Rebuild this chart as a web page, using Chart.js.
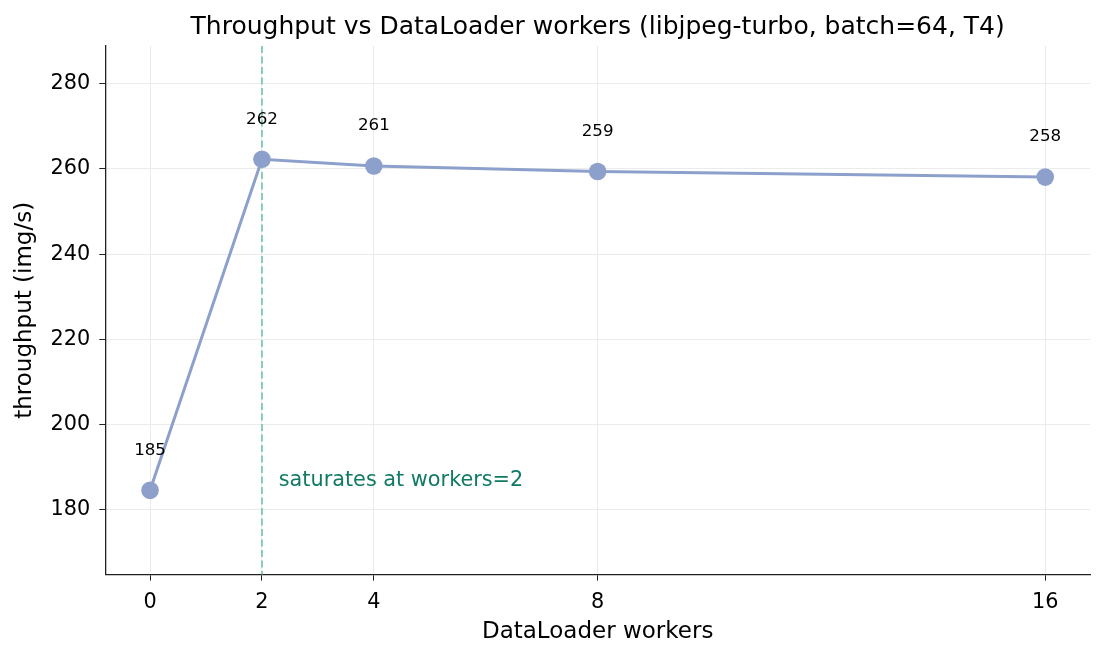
<!DOCTYPE html>
<html>
<head>
<meta charset="utf-8">
<script src="https://cdn.jsdelivr.net/npm/chart.js@4/dist/chart.umd.min.js"></script>
<style>
  html, body { margin: 0; padding: 0; background: #fff; }
  #wrap { width: 1106px; height: 658px; }
</style>
</head>
<body>
<div id="wrap"><canvas id="chart" width="1106" height="658"></canvas></div>
<script>
// === DATA ===
const workers = [0, 2, 4, 8, 16];
const throughput = [184.5, 262.3, 260.7, 259.4, 258.1];
const pointLabels = ["185", "262", "261", "259", "258"];
const xTicks = [0, 2, 4, 8, 16];
const yTicks = [180, 200, 220, 240, 260, 280];
const saturationAt = 2;
const noteText = "saturates at workers=2";

const FONT = "'DejaVu Sans', sans-serif";

// labels above points + dashed marker line + note
const overlay = {
  id: "overlay",
  beforeDatasetsDraw(chart) {
    const { ctx, chartArea, scales } = chart;
    const x = Math.round(scales.x.getPixelForValue(saturationAt));
    ctx.save();
    ctx.strokeStyle = "rgba(102,194,165,0.85)";
    ctx.lineWidth = 1.8;
    ctx.setLineDash([7, 3.5]);
    ctx.beginPath();
    ctx.moveTo(x, chartArea.top);
    ctx.lineTo(x, chartArea.bottom);
    ctx.stroke();
    ctx.restore();
  },
  afterDatasetsDraw(chart) {
    const { ctx, scales } = chart;
    ctx.save();
    ctx.font = "16.7px " + FONT;
    ctx.fillStyle = "#000";
    ctx.textAlign = "center";
    ctx.textBaseline = "middle";
    workers.forEach((w, i) => {
      const px = scales.x.getPixelForValue(w);
      const py = scales.y.getPixelForValue(throughput[i]);
      ctx.fillText(pointLabels[i], px, py - 40);
    });
    ctx.font = "20.8px " + FONT;
    ctx.fillStyle = "#117a65";
    ctx.textAlign = "left";
    ctx.fillText(noteText, scales.x.getPixelForValue(2.3), scales.y.getPixelForValue(186.9));
    ctx.restore();
  }
};

const ctx = document.getElementById("chart").getContext("2d");
new Chart(ctx, {
  type: "line",
  data: {
    datasets: [{
      data: workers.map((w, i) => ({ x: w, y: throughput[i] })),
      borderColor: "#8da0cb",
      backgroundColor: "#8da0cb",
      borderWidth: 3,
      pointRadius: 8.8,
      pointHoverRadius: 8.8,
      pointBorderWidth: 0,
      tension: 0
    }]
  },
  options: {
    responsive: false,
    animation: false,
    devicePixelRatio: 1,
    layout: { padding: { left: 11, right: 16, top: 5, bottom: 12 } },
    plugins: {
      legend: { display: false },
      tooltip: { enabled: false },
      title: {
        display: true,
        fullSize: false,
        text: "Throughput vs DataLoader workers (libjpeg-turbo, batch=64, T4)",
        color: "#000",
        font: { family: FONT, size: 25, weight: "normal" },
        padding: { top: 7, bottom: 4 }
      }
    },
    scales: {
      x: {
        type: "linear",
        min: -0.8,
        max: 16.8,
        afterBuildTicks: s => { s.ticks = xTicks.map(v => ({ value: v })); },
        grid: { color: "#ebebeb", lineWidth: 1, tickColor: "#222", tickLength: 6 },
        border: { color: "#222", width: 1.3 },
        ticks: { color: "#000", font: { family: FONT, size: 20.8, lineHeight: 1 }, padding: 11.6, maxRotation: 0 },
        title: { display: true, text: "DataLoader workers", color: "#000", font: { family: FONT, size: 23 }, padding: { top: -6.2, bottom: 0 } }
      },
      y: {
        min: 164.7,
        max: 288.9,
        afterBuildTicks: s => { s.ticks = yTicks.map(v => ({ value: v })); },
        grid: { color: "#ebebeb", lineWidth: 1, tickColor: "#222", tickLength: 6 },
        border: { color: "#222", width: 1.3 },
        ticks: { color: "#000", font: { family: FONT, size: 20.8, lineHeight: 1 }, padding: 9 },
        title: { display: true, text: "throughput (img/s)", color: "#000", font: { family: FONT, size: 23 }, padding: { top: 0, bottom: 3 } }
      }
    }
  },
  plugins: [overlay]
});
</script>
</body>
</html>
